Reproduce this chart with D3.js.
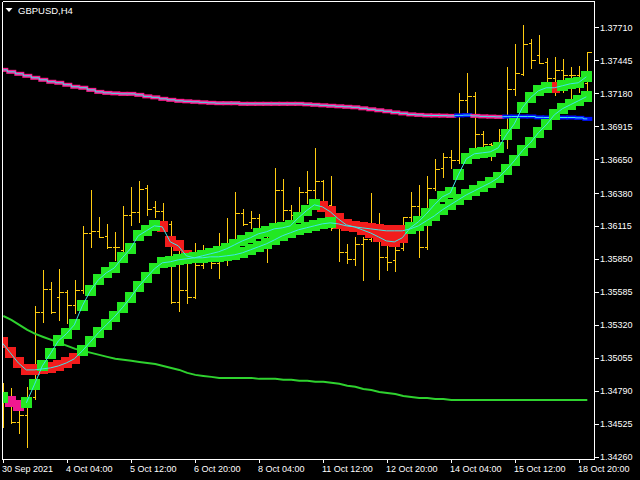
<!DOCTYPE html>
<html><head><meta charset="utf-8">
<script src="https://cdn.jsdelivr.net/npm/d3@7"></script>
<style>html,body{margin:0;padding:0;background:#000;} svg{display:block}</style>
</head><body>
<svg id="c" width="640" height="480"></svg>
<script>
// ---------------- DATA ----------------
const symbolTitle = "GBPUSD,H4";
const timeTickIndex = [0, 8, 16, 24, 32, 40, 48, 56, 64, 72];
const timeTickLabels = ["30 Sep 2021", "4 Oct 04:00", "5 Oct 12:00", "6 Oct 20:00", "8 Oct 04:00",
  "11 Oct 12:00", "12 Oct 20:00", "14 Oct 04:00", "15 Oct 12:00", "18 Oct 20:00"];
const priceTicks = [1.37710, 1.37445, 1.37180, 1.36915, 1.36650, 1.36380, 1.36115,
  1.35850, 1.35585, 1.35320, 1.35055, 1.34790, 1.34525, 1.34260];

const open = [1.34675,1.34731,1.34538,1.34594,1.34739,1.35423,1.35607,1.35543,1.35583,1.35479,
  1.35599,1.36058,1.36074,1.36034,1.35945,1.35921,1.36202,1.36227,1.36420,1.36267,
  1.36235,1.36130,1.35503,1.35599,1.35543,1.35800,1.35857,1.35817,1.35841,1.35897,
  1.36219,1.36146,1.36178,1.36098,1.36001,1.36403,1.36243,1.36202,1.36387,1.36403,
  1.36476,1.36283,1.36098,1.35905,1.35849,1.35969,1.36009,1.36082,1.35865,1.35841,
  1.35937,1.36186,1.36275,1.35945,1.36420,1.36580,1.36669,1.36645,1.37127,1.37159,
  1.36854,1.36773,1.36765,1.36846,1.37215,1.37336,1.37585,1.37489,1.37433,1.37304,
  1.37368,1.37328,1.37328,1.37264];
const high = [1.34852,1.34812,1.34635,1.34820,1.35471,1.35760,1.35664,1.35768,1.35599,1.35680,
  1.36114,1.36403,1.36186,1.36130,1.36066,1.36275,1.36428,1.36476,1.36444,1.36315,
  1.36299,1.36154,1.35945,1.35921,1.35977,1.35961,1.35921,1.36058,1.36178,1.36387,
  1.36251,1.36235,1.36210,1.36114,1.36580,1.36492,1.36283,1.36428,1.36556,1.36741,
  1.36484,1.36516,1.36130,1.35969,1.36026,1.36026,1.36379,1.36219,1.36001,1.35945,
  1.36186,1.36387,1.36444,1.36516,1.36653,1.36701,1.36725,1.37183,1.37344,1.37191,
  1.36878,1.36781,1.36894,1.37392,1.37577,1.37730,1.37617,1.37650,1.37465,1.37473,
  1.37457,1.37392,1.37400,1.37513];
const low = [1.34498,1.34530,1.34450,1.34337,1.34723,1.35342,1.35415,1.35358,1.35334,1.35415,
  1.35575,1.35945,1.36026,1.35937,1.35841,1.35897,1.36122,1.36146,1.36202,1.36186,
  1.36106,1.35495,1.35431,1.35495,1.35535,1.35776,1.35776,1.35696,1.35800,1.35873,
  1.36122,1.36098,1.36066,1.35825,1.35977,1.36162,1.36122,1.36162,1.36299,1.36323,
  1.36243,1.36082,1.35833,1.35817,1.35800,1.35680,1.35993,1.35688,1.35760,1.35752,
  1.35921,1.36066,1.35865,1.35929,1.36403,1.36508,1.36580,1.36621,1.37006,1.36749,
  1.36741,1.36645,1.36725,1.36741,1.37167,1.37328,1.37384,1.37425,1.37272,1.37167,
  1.37191,1.37111,1.37191,1.37143];
const close = [1.34731,1.34538,1.34594,1.34715,1.35423,1.35607,1.35423,1.35583,1.35479,1.35599,
  1.36058,1.36074,1.36026,1.35945,1.35945,1.36202,1.36227,1.36411,1.36251,1.36235,
  1.36138,1.35503,1.35599,1.35543,1.35800,1.35857,1.35817,1.35841,1.35897,1.36219,
  1.36130,1.36178,1.36098,1.36001,1.36403,1.36243,1.36202,1.36387,1.36403,1.36476,
  1.36283,1.36098,1.35905,1.35849,1.35969,1.36009,1.36082,1.35865,1.35825,1.35921,
  1.36186,1.36275,1.35945,1.36420,1.36572,1.36669,1.36645,1.37127,1.37159,1.36854,
  1.36773,1.36765,1.36846,1.37215,1.37344,1.37577,1.37449,1.37425,1.37304,1.37368,
  1.37328,1.37328,1.37264,1.37513];

// long moving average (pink = falling, blue = rising)
const maLong = [1.37368,1.37352,1.37336,1.37320,1.37304,1.37288,1.37272,1.37264,1.37248,1.37232,
  1.37224,1.37207,1.37191,1.37183,1.37179,1.37175,1.37175,1.37167,1.37155,1.37147,
  1.37135,1.37127,1.37119,1.37115,1.37111,1.37107,1.37103,1.37100,1.37100,1.37100,
  1.37095,1.37095,1.37095,1.37095,1.37095,1.37095,1.37095,1.37095,1.37091,1.37087,
  1.37083,1.37079,1.37075,1.37071,1.37067,1.37059,1.37051,1.37043,1.37035,1.37026,
  1.37018,1.37010,1.37006,1.37002,1.37001,1.37000,1.36998,1.37002,1.37004,1.36998,
  1.36994,1.36992,1.36990,1.36992,1.36993,1.36993,1.36993,1.36986,1.36985,1.36985,
  1.36985,1.36985,1.36982,1.36974];
const maLongDir = [-1,-1,-1,-1,-1,-1,-1,-1,-1,-1, -1,-1,-1,-1,-1,-1,-1,-1,-1,-1,
  -1,-1,-1,-1,-1,-1,-1,-1,-1,-1, -1,-1,-1,-1,-1,-1,-1,-1,-1,-1,
  -1,-1,-1,-1,-1,-1,-1,-1,-1,-1, -1,-1,-1,-1,-1,-1,-1,1,1,-1,
  -1,-1,-1,1,1,1,1,1,1,1, 1,1,1,1];

// medium moving average (green line)
const maMid = [1.35390,1.35358,1.35318,1.35278,1.35246,1.35221,1.35197,1.35173,1.35149,1.35125,
  1.35109,1.35093,1.35077,1.35061,1.35045,1.35037,1.35029,1.35020,1.35012,1.35004,
  1.34988,1.34972,1.34956,1.34932,1.34916,1.34908,1.34900,1.34892,1.34892,1.34892,
  1.34892,1.34892,1.34884,1.34884,1.34884,1.34876,1.34876,1.34868,1.34868,1.34860,
  1.34860,1.34852,1.34844,1.34828,1.34820,1.34803,1.34795,1.34779,1.34771,1.34763,
  1.34747,1.34739,1.34731,1.34731,1.34723,1.34723,1.34715,1.34715,1.34715,1.34715,
  1.34715,1.34715,1.34715,1.34715,1.34715,1.34715,1.34715,1.34715,1.34715,1.34715,
  1.34715,1.34715,1.34715,1.34715];

// fast step line (1 up, -1 down, 0 neutral)
const stepFast = [1.34731,1.34699,1.34667,1.34691,1.34836,1.34988,1.35085,1.35189,1.35246,1.35318,
  1.35471,1.35591,1.35680,1.35736,1.35776,1.35857,1.35929,1.36034,1.36074,1.36114,
  1.36106,1.35985,1.35953,1.35873,1.35857,1.35873,1.35889,1.35905,1.35929,1.35961,
  1.35993,1.36018,1.36050,1.36066,1.36090,1.36098,1.36114,1.36178,1.36235,1.36283,
  1.36267,1.36227,1.36170,1.36122,1.36106,1.36082,1.36058,1.36026,1.35993,1.35985,
  1.36018,1.36098,1.36146,1.36210,1.36283,1.36347,1.36379,1.36524,1.36653,1.36693,
  1.36701,1.36709,1.36741,1.36846,1.36934,1.37063,1.37143,1.37199,1.37224,1.37224,
  1.37240,1.37256,1.37264,1.37312];
const stepFastState = [1,0,0,1,1,1,1,1,1,1, 1,1,1,1,1,1,1,1,1,1,
  -1,-1,-1,-1,-1,1,1,1,1,1, 1,1,1,1,1,1,1,1,1,1,
  -1,-1,-1,-1,-1,-1,-1,-1,-1,-1, -1,1,1,1,1,1,1,1,1,1,
  1,1,1,1,1,1,1,1,1,-1, 1,1,1,1];

// slow step line
const stepSlow = [1.35173,1.35093,1.35012,1.34956,1.34956,1.34964,1.34972,1.34988,1.35012,1.35045,
  1.35109,1.35181,1.35254,1.35318,1.35382,1.35455,1.35535,1.35624,1.35696,1.35768,
  1.35817,1.35825,1.35841,1.35849,1.35857,1.35857,1.35865,1.35865,1.35873,1.35881,
  1.35897,1.35921,1.35945,1.35969,1.36001,1.36034,1.36058,1.36082,1.36098,1.36114,
  1.36130,1.36138,1.36130,1.36114,1.36106,1.36098,1.36090,1.36082,1.36074,1.36074,
  1.36074,1.36090,1.36114,1.36154,1.36194,1.36243,1.36283,1.36323,1.36363,1.36395,
  1.36428,1.36460,1.36500,1.36564,1.36637,1.36717,1.36781,1.36862,1.36926,1.37006,
  1.37055,1.37087,1.37119,1.37151];
const stepSlowState = [-1,-1,-1,-1,-1,-1,-1,-1,-1,-1, 1,1,1,1,1,1,1,1,1,1,
  1,1,1,1,1,1,1,1,1,1, 1,1,1,1,1,1,1,1,1,1,
  1,1,-1,-1,-1,-1,-1,-1,-1,-1, -1,1,1,1,1,1,1,1,1,1,
  1,1,1,1,1,1,1,1,1,1, 1,1,1,1];

// ---------------- DRAWING ----------------
const W = 640, H = 480;
const frame = {left: 2.5, top: 1.5, right: 594.5, bottom: 459.5};
const FONT = "'Liberation Sans', Arial, sans-serif";
const col = {
  bg: "#000000", fg: "#ffffff", bar: "#ffcc11", pink: "#ff1a8c", blue: "#0010ff",
  cyan: "#3ee6ea", green: "#22e822", red: "#f21c1c", magenta: "#f01890", ma: "#2fd22f"
};

const n = close.length;
const x = d3.scaleLinear().domain([0, n - 1]).range([3.3, 587.3]);
const y = d3.scaleLinear().domain([1.34260, 1.37710]).range([456.5, 27.3]);
const idx = d3.range(n);

const svg = d3.select("#c");
svg.append("rect").attr("width", W).attr("height", H).attr("fill", col.bg);
svg.append("defs").append("clipPath").attr("id", "clip")
  .append("rect").attr("x", 3).attr("y", 2).attr("width", 591).attr("height", 457);

const g = svg.append("g").attr("clip-path", "url(#clip)");
const px = v => Math.round(v) + 0.5;

// OHLC bars
const bars = g.append("g").attr("stroke", col.bar).attr("stroke-width", 1).attr("shape-rendering", "crispEdges");
idx.forEach(i => {
  const cx = px(x(i));
  bars.append("line").attr("x1", cx).attr("x2", cx).attr("y1", Math.round(y(high[i]))).attr("y2", Math.round(y(low[i])) + 1);
  bars.append("line").attr("x1", cx - 3).attr("x2", cx).attr("y1", px(y(open[i]))).attr("y2", px(y(open[i])));
  bars.append("line").attr("x1", cx).attr("x2", cx + 4).attr("y1", px(y(close[i]))).attr("y2", px(y(close[i])));
});

// long MA: thick colored blocks + thin cyan line
const maL = g.append("g");
idx.forEach(i => {
  maL.append("rect").attr("x", x(i) - 5).attr("y", y(maLong[i]) - 2).attr("width", 10).attr("height", 4)
    .attr("fill", maLongDir[i] > 0 ? col.blue : col.pink);
});
maL.append("path").datum(idx)
  .attr("d", d3.line().x(i => x(i)).y(i => y(maLong[i])).curve(d3.curveStep))
  .attr("fill", "none").attr("stroke", col.cyan).attr("stroke-width", 1);

// medium MA green line
g.append("path").datum(idx)
  .attr("d", d3.line().x(i => x(i)).y(i => y(maMid[i])))
  .attr("fill", "none").attr("stroke", col.ma).attr("stroke-width", 2);

// step bands: down / neutral squares first, up squares drawn on top
const SQ = 11;
const sq = [];
idx.forEach(i => { sq.push({i, v: stepSlow[i], s: stepSlowState[i]}); sq.push({i, v: stepFast[i], s: stepFastState[i]}); });
const sqColor = s => s > 0 ? col.green : (s < 0 ? col.red : col.magenta);
const ordered = sq.filter(d => d.s <= 0).concat(sq.filter(d => d.s > 0));
g.append("g").selectAll("rect").data(ordered).join("rect")
  .attr("x", d => Math.round(x(d.i) - 1 - SQ / 2))
  .attr("y", d => Math.round(y(d.v) - SQ / 2))
  .attr("width", SQ).attr("height", SQ)
  .attr("fill", d => sqColor(d.s));

// cyan centre lines
g.append("path").datum(idx)
  .attr("d", d3.line().defined(i => stepSlowState[i] !== 0).x(i => x(i) - 1).y(i => y(stepSlow[i])))
  .attr("fill", "none").attr("stroke", col.cyan).attr("stroke-width", 1);
g.append("path").datum(idx.slice(3))
  .attr("d", d3.line().defined(i => stepFastState[i] !== 0).x(i => x(i) - 1).y(i => y(stepFast[i])))
  .attr("fill", "none").attr("stroke", col.cyan).attr("stroke-width", 1);

// frame
const fr = svg.append("g").attr("stroke", col.fg).attr("stroke-width", 1).attr("shape-rendering", "crispEdges");
fr.append("line").attr("x1", frame.left).attr("x2", frame.left).attr("y1", frame.top).attr("y2", frame.bottom);
fr.append("line").attr("x1", frame.left).attr("x2", frame.right).attr("y1", frame.top).attr("y2", frame.top);
fr.append("line").attr("x1", frame.left).attr("x2", frame.right).attr("y1", frame.bottom).attr("y2", frame.bottom);
fr.append("line").attr("x1", frame.right).attr("x2", frame.right).attr("y1", frame.top).attr("y2", frame.bottom);

// price axis
const yAxis = svg.append("g").attr("transform", `translate(${frame.right},0)`)
  .call(d3.axisRight(y).tickValues(priceTicks).tickFormat(d3.format(".5f")).tickSize(4).tickPadding(1.5));
yAxis.select(".domain").remove();
yAxis.selectAll("line").attr("stroke", col.fg).attr("shape-rendering", "crispEdges");
yAxis.selectAll("text").attr("fill", col.fg).attr("font-family", FONT).attr("font-size", "9px").attr("dy", "0.36em");

// time axis
const xAxis = svg.append("g").attr("transform", `translate(0,${frame.bottom})`)
  .call(d3.axisBottom(x).tickValues(timeTickIndex).tickFormat((d, k) => timeTickLabels[k]).tickSize(3.5).tickPadding(3));
xAxis.select(".domain").remove();
xAxis.selectAll(".tick").attr("transform", d => `translate(${px(x(d))},0)`);
xAxis.selectAll("line").attr("stroke", col.fg).attr("shape-rendering", "crispEdges");
xAxis.selectAll("text").attr("fill", col.fg).attr("font-family", FONT).attr("font-size", "9px")
  .attr("text-anchor", "start").attr("dx", "-1.5");

// title
svg.append("path").attr("d", "M5.5,8 L12.5,8 L9,12 Z").attr("fill", col.fg);
svg.append("text").attr("x", 18).attr("y", 13.5).attr("fill", col.fg)
  .attr("font-family", FONT).attr("font-size", "9.5px").text(symbolTitle);
</script>
</body></html>
